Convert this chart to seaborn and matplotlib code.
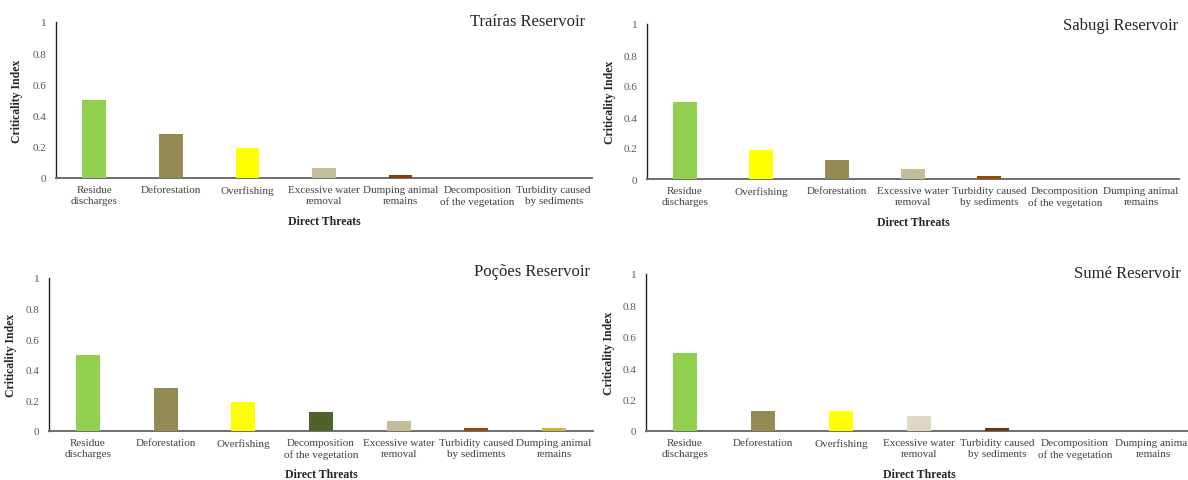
import numpy as np
import pandas as pd
import matplotlib
matplotlib.use("Agg")
import matplotlib.pyplot as plt
import seaborn as sns

sns.set_theme(style="white")
plt.rcParams['font.family'] = ['Liberation Serif', 'DejaVu Serif']

# threat labels
RES = "Residue\ndischarges"
DEF = "Deforestation"
OVF = "Overfishing"
EXC = "Excessive water\nremoval"
DUM = "Dumping animal\nremains"
DEC = "Decomposition\nof the vegetation"
TUR = "Turbidity caused\nby sediments"

# Traíras
trairas_cats = [RES, DEF, OVF, EXC, DUM, DEC, TUR]
trairas_vals = [0.50, 0.28, 0.19, 0.065, 0.018, 0.0, 0.0]
trairas_cols = ["#92D050", "#948A54", "#FFFF00", "#C4BD97", "#843C0C", "#4F6228", "#984807"]

# Sabugi
sabugi_cats = [RES, OVF, DEF, EXC, TUR, DEC, DUM]
sabugi_vals = [0.50, 0.19, 0.125, 0.065, 0.018, 0.0, 0.0]
sabugi_cols = ["#92D050", "#FFFF00", "#948A54", "#C4BD97", "#984807", "#4F6228", "#C9A437"]

# Poções
pocoes_cats = [RES, DEF, OVF, DEC, EXC, TUR, DUM]
pocoes_vals = [0.50, 0.28, 0.19, 0.125, 0.065, 0.018, 0.018]
pocoes_cols = ["#92D050", "#948A54", "#FFFF00", "#4F6228", "#C4BD97", "#984807", "#D4B43C"]

# Sumé
sume_cats = [RES, DEF, OVF, EXC, TUR, DEC, DUM]
sume_vals = [0.50, 0.125, 0.125, 0.095, 0.018, 0.0, 0.0]
sume_cols = ["#92D050", "#948A54", "#FFFF00", "#DDD9C4", "#6B3A12", "#4F6228", "#C9A437"]

W, H = 1188, 481
fig = plt.figure(figsize=(W / 100, H / 100), dpi=100)

panels = [
    # title, cats, vals, colors, (left, right, top, bottom) px, title pos px, ylabel x px
    ("Traíras Reservoir", trairas_cats, trairas_vals, trairas_cols, (56, 592, 23, 179), (585, 22), 23),
    ("Sabugi Reservoir", sabugi_cats, sabugi_vals, sabugi_cols, (647, 1179, 25, 180), (1178, 26), 616),
    ("Poções Reservoir", pocoes_cats, pocoes_vals, pocoes_cols, (49, 593, 279, 432), (590, 272), 17),
    ("Sumé Reservoir", sume_cats, sume_vals, sume_cols, (646, 1192, 275, 432), (1181, 274), 615),
]

for title, cats, vals, cols, (l, r, t, b), (tx, ty), ylx in panels:
    ax = fig.add_axes([l / W, (H - b) / H, (r - l) / W, (b - t) / H])
    df = pd.DataFrame({"threat": cats, "value": vals})
    sns.barplot(data=df, x="threat", y="value", hue="threat", order=cats,
                palette=dict(zip(cats, cols)), width=0.31, saturation=1,
                legend=False, ax=ax, zorder=3, linewidth=0)
    ax.set_xlim(-0.5, len(cats) - 0.5)
    ax.set_ylim(0, 1)
    ax.set_yticks([0, 0.2, 0.4, 0.6, 0.8, 1])
    ax.set_yticklabels(["0", "0.2", "0.4", "0.6", "0.8", "1"])
    ax.tick_params(axis="y", length=0, pad=7, labelsize=8, labelcolor="#595959")
    ax.tick_params(axis="x", length=0, pad=5, labelsize=8, labelcolor="#404040")
    for lab in ax.get_xticklabels():
        lab.set_linespacing(1.3)
    for s in ["top", "right"]:
        ax.spines[s].set_visible(False)
    ax.spines["left"].set_color("#222222")
    ax.spines["left"].set_linewidth(1.0)
    ax.spines["bottom"].set_color("#6E6E6E")
    ax.spines["bottom"].set_linewidth(1.4)
    ax.set_ylabel("Criticality Index", fontsize=8.5, fontweight="bold")
    ax.yaxis.set_label_coords((ylx - l) / (r - l), 0.5)
    ax.set_xlabel("Direct Threats", fontsize=8.5, fontweight="bold")
    ax.xaxis.set_label_coords(0.5, -(37 / (b - t)))
    fig.text(tx / W, 1 - ty / H, title, ha="right", va="center", fontsize=12, color="#262626")

fig.savefig("out.png", dpi=100)
